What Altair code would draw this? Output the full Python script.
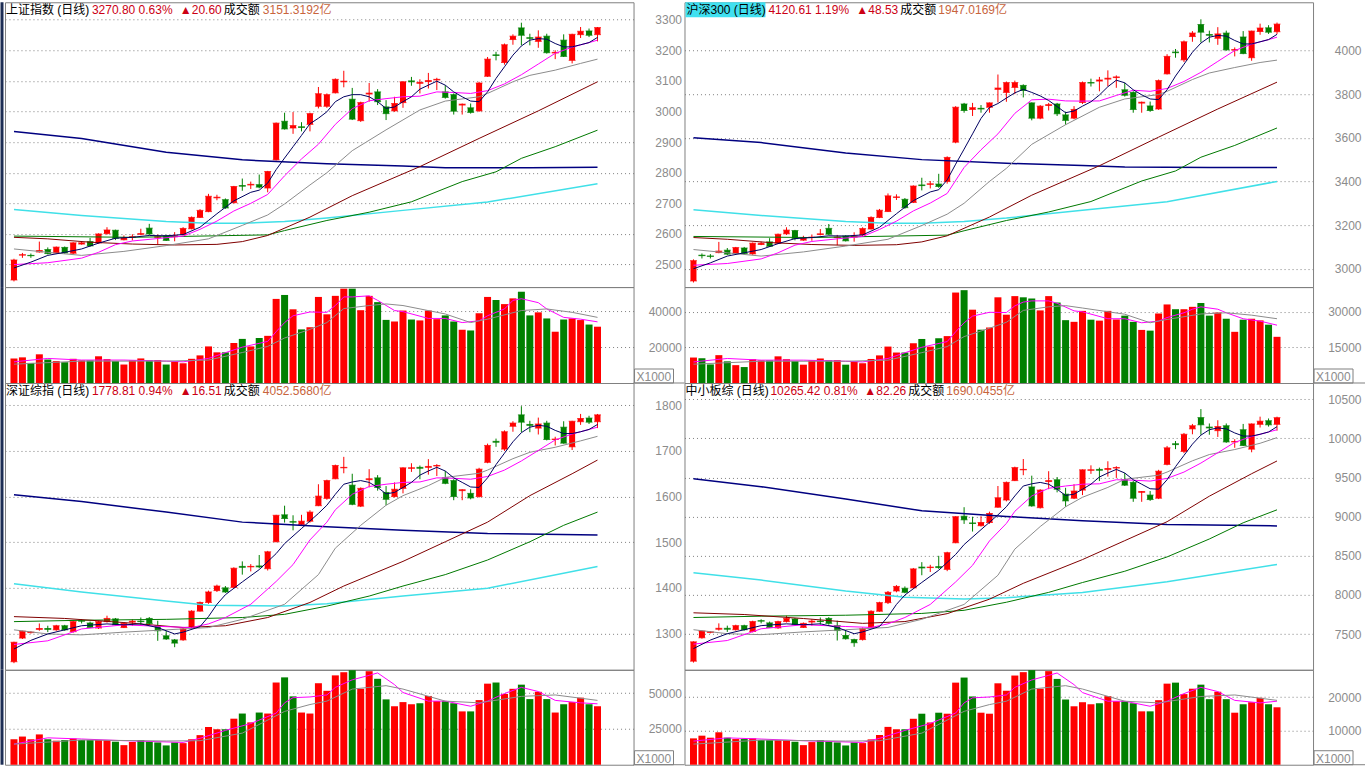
import altair as alt
import pandas as pd

# ================= 上证指数 (top-left) =================
SH_OPEN = [2450,2531,2530,2541,2549,2538,2556,2537,2567,2575,
           2571,2601,2612,2581,2589,2599,2619,2589,2594,2591,
           2598,2617,2654,2673,2718,2712,2702,2758,2760,2761,
           2750,2842,2968,2946,2950,2958,3017,3017,3061,3097,
           3040,2970,3057,3064,3015,3002,3029,3100,3092,3098,
           3103,3064,3055,3021,3012,3002,3115,3185,3160,3235,
           3273,3241,3229,3246,3191,3233,3167,3251,3263,3251]
SH_CLOSE = [2515,2532,2529,2546,2536,2557,2538,2571,2571,2561,
            2600,2613,2586,2587,2591,2601,2600,2591,2579,2594,
            2618,2654,2677,2723,2720,2685,2755,2756,2762,2753,
            2804,2962,2943,2954,2948,2993,3058,3055,3105,3099,
            2975,3029,3060,3032,2993,3026,3097,3097,3095,3101,
            3105,3046,3001,3024,2997,3093,3171,3183,3218,3246,
            3249,3239,3243,3192,3193,3180,3252,3262,3249,3274]
SH_HIGH = [2519,2538,2536,2575,2556,2559,2559,2573,2576,2587,
           2602,2622,2614,2595,2599,2617,2633,2598,2597,2606,
           2622,2657,2681,2731,2728,2716,2757,2781,2771,2794,
           2806,2964,2996,2998,2965,2996,3080,3059,3108,3133,
           3077,3032,3093,3073,3037,3048,3099,3113,3105,3126,
           3110,3086,3059,3026,3026,3097,3178,3195,3222,3252,
           3290,3254,3265,3254,3200,3252,3254,3276,3271,3276]
SH_LOW = [2445,2522,2522,2539,2533,2536,2535,2534,2565,2559,
          2568,2598,2580,2579,2579,2596,2597,2565,2577,2576,
          2595,2615,2652,2671,2710,2682,2700,2741,2747,2749,
          2736,2840,2941,2927,2935,2935,3010,3012,3059,3079,
          2972,2966,3032,3021,2972,2999,3012,3084,3059,3075,
          3070,3042,2990,2990,2993,2999,3113,3167,3153,3218,
          3216,3216,3208,3189,3171,3178,3157,3240,3243,3229]
SH_VOL = [13700,14300,11200,16000,13100,12200,11600,13500,12600,12600,
          14900,13300,12200,10300,12600,13700,12600,12800,10300,12000,
          11000,13500,15400,20400,17100,17100,22300,24600,20400,25100,
          26300,46900,49100,41100,29900,31100,48000,38300,48600,52600,
          52600,40600,48600,45100,35200,34300,40400,35400,34900,40400,
          35600,37700,34300,29700,29300,38900,48000,46300,44000,47200,
          50900,37700,39400,36000,28600,35400,36000,35100,32600,31400]
SH_MA5 = [(0,2489),(2,2508),(4,2530),(6,2540),(8,2551),(10,2570),(12,2586),(14,2589),
          (16,2595),(18,2594),(20,2598),(22,2622),(23,2644),(24,2666),(26,2708),(28,2736),
          (29,2743),(30,2766),(31,2810),(32,2848),(33,2885),(34,2922),(35,2960),(36,2978),
          (37,2999),(38,3032),(39,3048),(40,3055),(41,3055),(42,3048),(43,3032),(44,3010),
          (45,3015),(46,3032),(47,3048),(48,3073),(49,3086),(50,3099),(51,3086),(52,3064),
          (53,3048),(54,3034),(55,3032),(56,3064),(57,3108),(58,3146),(59,3184),(60,3214),
          (61,3233),(62,3238),(63,3236),(64,3222),(65,3211),(66,3211),(67,3218),(68,3225),(69,3242)]
SH_MA10 = [(0,2500),(4,2506),(8,2521),(10,2540),(12,2565),(14,2577),(17,2585),(20,2593),
           (22,2615),(24,2642),(26,2675),(28,2700),(30,2729),(32,2790),(34,2845),(36,2893),
           (38,2958),(40,3009),(42,3035),(44,3042),(46,3048),(48,3050),(50,3064),(52,3062),
           (54,3059),(56,3068),(58,3090),(60,3120),(62,3155),(64,3190),(66,3210),(68,3225),(69,3233)]
SH_MA20 = [(0,2551),(4,2540),(8,2530),(13,2543),(18,2562),(23,2584),(27,2628),(30,2662),
           (32,2698),(35,2760),(37,2800),(40,2872),(44,2940),(48,3005),(51,3034),(55,3048),
           (56,3059),(59,3097),(61,3118),(64,3135),(67,3157),(69,3171)]
SH_MA60 = [(0,2589),(4,2584),(9,2573),(14,2567),(19,2564),(24,2566),(27,2575),(30,2595),
           (35,2655),(40,2725),(48,2820),(55,2912),(62,3002),(69,3097)]
SH_MA120 = [(0,2593),(14,2589),(30,2597),(32,2611),(37,2644),(42,2671),(47,2705),(53,2771),
            (57,2803),(60,2847),(64,2885),(69,2939)]
SH_MA250 = [(0,2935),(8,2912),(18,2867),(27,2842),(37,2829),(46,2822),(51,2816),(61,2816),(69,2818)]
SH_MAC = [(0,2680),(8,2660),(18,2641),(23,2635),(27,2635),(32,2641),(37,2652),(46,2677),(56,2704),(69,2764)]
SH_VMA5 = [(0,11800),(4,13700),(8,12800),(13,12800),(18,12200),(20,11800),(23,13700),(25,16900),
           (27,20000),(30,23200),(31,28600),(32,33700),(33,37500),(35,39600),(37,39400),(38,43200),
           (39,48000),(40,48000),(42,48600),(43,46100),(45,40400),(46,39800),(49,36000),(51,36000),
           (53,33700),(55,34700),(56,37500),(58,41300),(59,46100),(60,47000),(62,44800),(63,41300),
           (65,36600),(67,35600),(69,34100)]
SH_VMA10 = [(0,10500),(8,12200),(18,12200),(23,12800),(27,17000),(30,20400),(32,25100),(35,29900),
            (37,33700),(39,41500),(42,43200),(44,44100),(46,43200),(51,38500),(54,33700),(56,35600),
            (60,40400),(63,41300),(66,39400),(69,36600)]

# ================= 沪深300 (top-right) =================
HS_OPEN = [2944,3062,3058,3074,3085,3070,3095,3068,3111,3123,
           3117,3160,3175,3131,3143,3157,3185,3143,3150,3145,
           3155,3182,3235,3262,3327,3318,3304,3384,3387,3388,
           3400,3580,3755,3730,3735,3740,3822,3808,3831,3840,
           3760,3690,3748,3755,3705,3690,3762,3853,3860,3869,
           3876,3820,3808,3759,3746,3732,3893,3993,3957,4064,
           4119,4073,4056,4080,4002,4062,3967,4087,4104,4086]
HS_CLOSE = [3037,3060,3057,3081,3067,3097,3070,3117,3117,3103,
            3158,3177,3138,3140,3145,3160,3158,3145,3128,3150,
            3184,3235,3268,3334,3329,3280,3379,3381,3389,3377,
            3510,3740,3725,3738,3732,3760,3828,3853,3853,3817,
            3690,3745,3752,3710,3680,3730,3853,3851,3865,3873,
            3879,3795,3730,3763,3725,3862,3973,3990,4040,4080,
            4084,4070,4076,4003,4004,3986,4089,4103,4084,4121]
HS_HIGH = [3043,3070,3067,3123,3095,3100,3100,3120,3124,3140,
           3161,3190,3178,3151,3157,3182,3205,3155,3154,3167,
           3190,3240,3274,3345,3341,3324,3382,3417,3402,3435,
           3515,3745,3760,3760,3750,3762,3890,3858,3862,3845,
           3762,3750,3760,3760,3720,3745,3858,3871,3879,3909,
           3886,3852,3813,3766,3766,3867,3983,4007,4046,4089,
           4143,4091,4107,4091,4014,4089,4091,4123,4116,4128]
HS_LOW = [2937,3047,3047,3071,3063,3067,3065,3064,3108,3100,
          3113,3155,3130,3128,3128,3153,3154,3108,3125,3124,
          3151,3180,3232,3260,3315,3275,3301,3359,3368,3371,
          3390,3575,3715,3700,3715,3715,3762,3765,3800,3785,
          3680,3685,3725,3700,3660,3685,3755,3835,3813,3836,
          3829,3789,3715,3715,3719,3728,3890,3967,3947,4040,
          4037,4037,4026,3999,3973,3983,3953,4072,4076,4075]
HS_VOL = [10700,10400,7800,11700,9100,7500,6700,10000,9500,9500,
          11200,10000,9200,7700,9500,10300,9500,9600,7700,9000,
          8300,10100,11600,15300,12800,12800,16700,18500,15300,18800,
          19700,38000,39000,30800,22400,23300,36000,28700,36500,36000,
          35500,30500,36500,33800,26400,25700,30300,26600,26200,30300,
          26700,28300,25700,22300,22000,29200,33000,31000,31000,32000,
          33600,28300,29600,27000,21500,26600,27000,26300,24500,19400]
HS_MA5 = [(0,3000),(2,3027),(4,3058),(6,3073),(8,3088),(10,3115),(12,3138),(14,3143),(16,3151),
          (18,3150),(20,3155),(22,3190),(23,3221),(24,3252),(26,3312),(28,3352),(29,3362),(30,3407),
          (31,3479),(32,3548),(33,3618),(34,3689),(35,3739),(36,3757),(37,3782),(38,3806),(39,3822),
          (40,3808),(41,3792),(42,3771),(43,3743),(44,3715),(45,3723),(46,3745),(47,3765),(48,3796),
          (49,3834),(50,3864),(51,3852),(52,3820),(53,3797),(54,3778),(55,3775),(56,3820),(57,3883),
          (58,3937),(59,3992),(60,4034),(61,4061),(62,4069),(63,4066),(64,4046),(65,4030),(66,4030),
          (67,4040),(68,4050),(69,4074)]
HS_MA10 = [(0,3016),(4,3024),(8,3045),(10,3073),(12,3108),(14,3125),(17,3137),(20,3148),(22,3180),
           (24,3218),(26,3265),(28,3301),(30,3345),(32,3464),(34,3545),(36,3618),(38,3712),(40,3774),
           (42,3777),(44,3769),(46,3768),(48,3769),(50,3794),(52,3818),(54,3813),(56,3826),(58,3858),
           (60,3900),(62,3950),(64,4000),(66,4029),(68,4050),(69,4061)]
HS_MA20 = [(0,3088),(4,3073),(8,3058),(13,3077),(18,3104),(23,3135),(27,3198),(30,3250),(32,3300),
           (35,3400),(37,3460),(40,3570),(44,3660),(48,3740),(51,3778),(55,3798),(56,3813),(59,3867),
           (61,3897),(64,3922),(67,3945),(69,3956)]
HS_MA60 = [(0,3143),(4,3135),(9,3120),(14,3111),(19,3107),(24,3110),(27,3123),(30,3151),(35,3237),
           (40,3337),(48,3472),(55,3603),(62,3732),(69,3855)]
HS_MA120 = [(0,3148),(14,3143),(30,3154),(32,3174),(37,3221),(42,3260),(47,3308),(53,3402),(57,3448),
            (60,3511),(64,3565),(69,3645)]
HS_MA250 = [(0,3600),(8,3578),(18,3530),(27,3500),(37,3483),(46,3473),(51,3466),(61,3464),(69,3464)]
HS_MAC = [(0,3270),(8,3244),(18,3217),(23,3208),(27,3208),(32,3217),(37,3232),(46,3268),(56,3307),(69,3400)]
HS_VMA5 = [(0,8850),(4,10300),(8,9600),(13,9600),(18,9150),(20,8850),(23,10300),(25,12700),(27,15000),
           (30,17400),(31,21500),(32,25300),(33,28100),(35,29700),(37,29600),(38,32400),(39,34000),
           (40,34500),(42,34500),(43,33500),(45,30300),(46,29900),(49,27000),(51,27000),(53,25300),
           (55,26000),(56,27500),(58,29500),(59,31000),(60,32000),(62,31000),(63,29500),(65,27000),
           (67,26000),(69,24300)]
HS_VMA10 = [(0,7900),(8,9150),(18,9150),(23,9600),(27,12750),(30,15300),(32,19500),(35,23000),
            (37,25500),(39,30500),(42,32000),(44,32500),(46,31500),(51,28900),(54,25300),(56,26700),
            (60,29000),(63,29500),(66,28500),(69,27000)]

# ================= 深证综指 (bottom-left) =================
SZ_OPEN = [1238,1290,1302,1309,1311,1308,1317,1304,1328,1323,
           1312,1326,1332,1313,1325,1327,1333,1317,1295,1286,
           1286,1313,1349,1368,1394,1400,1401,1447,1446,1448,
           1442,1501,1560,1545,1539,1546,1580,1596,1639,1663,
           1625,1579,1637,1641,1609,1600,1618,1662,1664,1664,
           1667,1641,1635,1613,1607,1600,1675,1721,1704,1754,
           1779,1758,1750,1761,1725,1752,1709,1764,1772,1764]
SZ_CLOSE = [1281,1305,1303,1311,1309,1317,1308,1326,1327,1313,
            1326,1333,1319,1322,1327,1326,1322,1306,1288,1279,
            1310,1349,1368,1391,1404,1391,1443,1445,1447,1446,
            1479,1559,1552,1544,1546,1566,1601,1635,1668,1664,
            1583,1618,1639,1620,1594,1616,1663,1663,1662,1666,
            1668,1629,1600,1615,1597,1660,1712,1719,1742,1761,
            1763,1756,1759,1725,1726,1717,1765,1771,1763,1779]
SZ_HIGH = [1282,1306,1305,1322,1317,1319,1319,1328,1331,1326,
           1328,1339,1334,1324,1331,1335,1336,1328,1306,1288,
           1313,1351,1370,1394,1407,1404,1445,1458,1452,1472,
           1481,1560,1580,1559,1560,1570,1627,1637,1670,1687,
           1650,1620,1660,1647,1623,1631,1664,1673,1668,1682,
           1671,1656,1638,1616,1616,1663,1716,1727,1745,1765,
           1798,1766,1773,1766,1731,1765,1766,1781,1777,1781]
SZ_LOW = [1235,1288,1300,1306,1303,1306,1306,1302,1322,1312,
          1310,1324,1318,1312,1317,1319,1319,1284,1286,1270,
          1284,1312,1348,1365,1391,1389,1400,1429,1436,1443,
          1438,1500,1543,1526,1537,1543,1579,1593,1638,1651,
          1581,1577,1620,1613,1581,1598,1607,1654,1638,1648,
          1645,1627,1592,1592,1594,1598,1673,1709,1700,1742,
          1741,1741,1736,1723,1712,1716,1702,1757,1759,1750]
SZ_VOL = [17800,19700,17800,21200,17800,16800,17300,18300,17300,17300,
          17300,17300,16100,13700,15900,17300,16300,15600,13500,15600,
          15100,17800,20700,26400,24800,24800,32200,35800,29600,36500,
          35800,57500,61100,47800,36500,35800,57000,51700,62500,64700,
          66100,53100,65400,60100,45700,40900,43800,42300,43000,48100,
          44500,44500,43000,37300,37300,45200,56700,57500,49500,53100,
          56000,45900,51000,45900,36500,42300,43800,46900,42300,40900]
SZ_MA5 = [(0,1266),(2,1285),(4,1299),(6,1308),(8,1317),(11,1321),(13,1319),(15,1321),(17,1313),
          (19,1299),(20,1303),(22,1315),(23,1337),(24,1364),(25,1385),(27,1413),(29,1440),
          (31,1475),(32,1497),(34,1530),(36,1563),(37,1581),(38,1605),(39,1627),(40,1632),
          (41,1635),(42,1631),(43,1620),(44,1606),(45,1609),(46,1620),(47,1631),(48,1647),
          (49,1656),(50,1664),(51,1656),(52,1641),(53,1631),(54,1621),(55,1620),(56,1641),
          (57,1670),(58,1695),(59,1720),(60,1740),(61,1752),(62,1756),(63,1754),(64,1745),
          (65,1738),(66,1738),(67,1742),(68,1747),(69,1758)]
SZ_MA10 = [(0,1276),(4,1284),(8,1310),(13,1319),(18,1315),(21,1313),(23,1321),(25,1335),
           (28,1364),(31,1414),(33,1451),(35,1505),(37,1544),(38,1571),(40,1605),(42,1622),
           (44,1627),(46,1631),(48,1632),(50,1641),(52,1640),(54,1638),(56,1644),(58,1658),
           (60,1678),(62,1701),(64,1724),(66,1737),(68,1747),(69,1752)]
SZ_MA20 = [(0,1308),(4,1299),(8,1297),(13,1303),(18,1308),(23,1313),(27,1331),(32,1364),
           (36,1429),(38,1487),(41,1537),(44,1581),(46,1602),(49,1624),(51,1642),(55,1651),
           (56,1658),(59,1683),(61,1697),(64,1708),(67,1722),(69,1732)]
SZ_MA60 = [(0,1337),(6,1333),(13,1324),(20,1313),(25,1317),(30,1335),(35,1368),(39,1404),
           (46,1458),(51,1501),(56,1544),(61,1602),(66,1650),(69,1680)]
SZ_MA120 = [(0,1326),(8,1329),(18,1331),(27,1335),(32,1342),(37,1360),(42,1382),(46,1404),
            (51,1429),(56,1461),(61,1501),(65,1537),(69,1566)]
SZ_MA250 = [(0,1604),(8,1589),(18,1566),(27,1544),(37,1534),(46,1526),(56,1519),(69,1516)]
SZ_MAC = [(0,1409),(8,1391),(18,1371),(23,1362),(32,1360),(37,1365),(46,1382),(56,1399),(69,1447)]
SZ_VMA5 = [(0,14400),(4,18800),(8,18000),(13,16800),(20,15600),(22,18500),(25,24000),(28,28800),
           (31,36100),(32,43300),(33,46900),(35,47400),(37,48800),(38,54100),(40,59400),(42,62500),
           (43,64200),(45,56000),(46,50500),(49,44500),(51,44500),(54,40900),(56,44500),(58,49800),
           (60,54100),(62,51200),(64,45000),(67,43300),(69,42600)]
SZ_VMA10 = [(0,14400),(8,17300),(18,16600),(22,16800),(27,22100),(32,37300),(35,42100),(37,44500),
            (40,52900),(44,55300),(46,52900),(51,44500),(55,43300),(60,47800),(64,48800),(69,45000)]

# ================= 中小板综 (bottom-right) =================
ZX_OPEN = [7154,7453,7522,7562,7574,7556,7608,7533,7671,7643,
           7579,7660,7694,7585,7654,7666,7700,7608,7482,7430,
           7430,7585,7792,7902,8051,8086,8091,8356,8350,8362,
           8327,8667,9006,8920,8885,8926,9121,9213,9461,9599,
           9380,9115,9449,9472,9288,9236,9340,9593,9604,9604,
           9622,9472,9438,9311,9276,9236,9668,9932,9834,10122,
           10266,10145,10099,10162,9955,10111,9863,10180,10226,10180]
ZX_CLOSE = [7401,7539,7528,7574,7562,7608,7556,7660,7666,7585,
            7660,7700,7620,7637,7666,7660,7637,7545,7441,7390,
            7568,7792,7902,8034,8109,8034,8333,8345,8356,8350,
            8540,9000,8960,8914,8926,9041,9242,9438,9627,9604,
            9138,9340,9461,9351,9202,9328,9599,9599,9593,9616,
            9627,9403,9236,9322,9219,9581,9880,9921,10053,10162,
            10174,10134,10151,9955,9961,9909,10185,10220,10174,10265]
ZX_HIGH = [7407,7545,7539,7637,7608,7620,7620,7671,7689,7660,
           7671,7735,7706,7648,7689,7712,7717,7671,7545,7441,
           7585,7804,7913,8051,8126,8109,8345,8419,8385,8500,
           8552,9006,9121,9000,9006,9064,9392,9449,9639,9737,
           9524,9351,9581,9507,9369,9415,9604,9656,9627,9708,
           9645,9558,9455,9328,9328,9599,9904,9967,10070,10185,
           10375,10191,10232,10191,9990,10185,10191,10278,10255,10278]
ZX_LOW = [7136,7441,7510,7545,7528,7545,7545,7522,7637,7579,
          7568,7648,7614,7579,7608,7620,7620,7418,7430,7338,
          7418,7579,7786,7884,8034,8022,8086,8252,8293,8333,
          8304,8661,8908,8810,8874,8908,9115,9196,9455,9530,
          9127,9104,9351,9311,9127,9225,9276,9547,9455,9512,
          9495,9392,9190,9190,9202,9225,9656,9863,9812,10053,
          10047,10047,10019,9944,9880,9904,9823,10139,10151,10099]
ZX_VOL = [7800,8600,8000,9600,8000,7600,7600,7800,7300,7300,
          7300,7300,6800,5800,6700,7300,6900,6600,5700,6600,
          6400,7500,8800,11200,10500,10500,13600,15100,12500,15400,
          15100,24300,25800,20200,15400,15100,24100,21900,26400,27400,
          28000,22500,27700,25400,19300,17300,18500,17900,18200,20300,
          18800,18800,18200,15800,15800,19100,24000,24300,20900,22500,
          23700,19400,21600,19400,15400,17900,18500,19800,17900,17000]
ZX_MA5 = [(0,7315),(2,7424),(4,7505),(6,7556),(8,7608),(11,7631),(13,7620),(15,7631),(17,7585),
          (19,7505),(20,7528),(22,7597),(23,7723),(24,7879),(25,7999),(27,8160),(29,8316),(31,8517),
          (32,8644),(34,8834),(36,9023),(37,9127),(38,9265),(39,9392),(40,9420),(41,9438),(42,9415),
          (43,9351),(44,9271),(45,9288),(46,9351),(47,9415),(48,9507),(49,9558),(50,9604),(51,9558),
          (52,9472),(53,9415),(54,9357),(55,9351),(56,9472),(57,9639),(58,9783),(59,9927),(60,10042),
          (61,10111),(62,10134),(63,10122),(64,10070),(65,10030),(66,10030),(67,10053),(68,10082),(69,10150)]
ZX_MA10 = [(0,7372),(4,7418),(8,7568),(13,7620),(18,7597),(21,7585),(23,7631),(25,7712),(28,7879),
           (31,8166),(33,8379),(35,8690),(37,8914),(38,9069),(40,9265),(42,9363),(44,9392),(46,9415),
           (48,9420),(50,9472),(52,9466),(54,9455),(56,9489),(58,9570),(60,9685),(62,9817),(64,9950),
           (66,10024),(68,10082),(69,10111)]
ZX_MA20 = [(0,7556),(4,7505),(8,7493),(13,7528),(18,7556),(23,7585),(27,7689),(32,7879),(36,8252),
           (38,8586),(41,8874),(44,9127),(46,9248),(49,9374),(51,9478),(55,9530),(56,9570),(59,9714),
           (61,9794),(64,9858),(67,9938),(69,10010)]
ZX_MA60 = [(0,7772),(6,7750),(13,7699),(20,7637),(25,7660),(30,7761),(35,7946),(39,8149),(46,8452),
           (51,8694),(56,8936),(61,9262),(66,9549),(69,9712)]
ZX_MA120 = [(0,7712),(8,7729),(18,7741),(27,7764),(32,7804),(37,7907),(42,8033),(46,8159),(51,8303),
            (56,8486),(61,8715),(65,8922),(69,9088)]
ZX_MA250 = [(0,9486),(8,9383),(18,9226),(27,9075),(37,9003),(46,8948),(56,8900),(69,8882)]
ZX_MAC = [(0,8283),(8,8190),(18,8050),(25,7970),(32,7950),(37,7965),(46,8030),(56,8170),(69,8389)]
ZX_VMA5 = [(0,7000),(4,7950),(8,7600),(13,7100),(20,6600),(22,7800),(25,10150),(28,12200),(31,15300),
           (32,18300),(33,19800),(35,20050),(37,20650),(38,22900),(40,25100),(42,26450),(43,27150),
           (45,23700),(46,21350),(49,18800),(51,18800),(54,17300),(56,18800),(58,21050),(60,22900),
           (62,21650),(64,19050),(67,18300),(69,18800)]
ZX_VMA10 = [(0,6100),(8,7300),(18,7000),(22,7100),(27,9350),(32,15800),(35,17800),(37,18800),(40,22400),
            (44,23400),(46,22400),(51,18800),(55,18300),(60,20200),(64,20650),(69,19050)]

# ================= styling =================
XDOM = [-0.47, 72.67]
PW = 629
AXW = 51
RED = "#FF0000"
GREEN = "#008000"
TXT_RED = "#CC0014"
TXT_OR = "#C8643C"
AX_GRAY = "#8C8C8C"
BORDER = "#808080"
BLACK = "#000000"
FONT = "Liberation Sans, Noto Sans CJK SC, DejaVu Sans"
MA_STYLE = {"ma5": ("#000060", 1), "ma10": ("#FF00FF", 1), "ma20": ("#8C8C8C", 1),
            "ma60": ("#800000", 1), "ma120": ("#007800", 1), "ma250": ("#000080", 1.5),
            "mac": ("#40E0E8", 1.5)}


def xenc():
    return alt.X("i:Q", scale=alt.Scale(domain=XDOM, nice=False, zero=False), axis=None)


def yaxis(ticks):
    return alt.Axis(orient="right", values=ticks, grid=True, gridColor=BORDER, gridDash=[1, 3],
                    gridWidth=1, ticks=False, tickSize=0, domain=False, labelAlign="right",
                    labelPadding=48, labelColor=AX_GRAY, labelFont="Liberation Sans",
                    labelFontSize=12, labelBaseline="middle", title=None, format="d",
                    labelOverlap=False)


def dirs_of(o, c):
    return ["up" if cc >= oo else "dn" for oo, cc in zip(o, c)]


def color_enc():
    return alt.Color("d:N", scale=alt.Scale(domain=["up", "dn"], range=[RED, GREEN]), legend=None)


def one(text):
    return alt.Chart(pd.DataFrame({"t": [text]}))


def price_panel(o, h, l, c, mas, ydom, yticks, height, header, box=None, left_edge=False):
    n = len(c)
    df = pd.DataFrame({"i": list(range(n)), "o": o, "h": h, "l": l, "c": c, "d": dirs_of(o, c)})
    ys = alt.Scale(domain=ydom, nice=False, zero=False)
    ax = yaxis(yticks)
    base = alt.Chart(df)
    wick = base.mark_rule(strokeWidth=1).encode(
        x=xenc(), y=alt.Y("l:Q", scale=ys, axis=ax), y2="h:Q", color=color_enc())
    body = base.mark_bar(size=6).encode(
        x=xenc(), y=alt.Y("o:Q", scale=ys, axis=ax), y2="c:Q", color=color_enc())
    t_open = base.mark_tick(orient="horizontal", size=7, thickness=1).encode(
        x=xenc(), y=alt.Y("o:Q", scale=ys, axis=ax), color=color_enc())
    t_close = base.mark_tick(orient="horizontal", size=7, thickness=1).encode(
        x=xenc(), y=alt.Y("c:Q", scale=ys, axis=ax), color=color_enc())
    rows = []
    for name, pts in mas.items():
        for i, v in pts:
            rows.append({"i": i, "v": v, "m": name, "w": MA_STYLE[name][1]})
    names = list(mas.keys())
    lines = alt.Chart(pd.DataFrame(rows)).mark_line().encode(
        x=xenc(), y=alt.Y("v:Q", scale=ys, axis=ax),
        color=alt.Color("m:N", scale=alt.Scale(domain=names, range=[MA_STYLE[k][0] for k in names]), legend=None),
        strokeWidth=alt.StrokeWidth("w:Q", scale=None, legend=None),
        order="i:Q")
    layers = [wick, body, t_open, t_close, lines]
    if box is not None:
        layers.append(one("b").mark_rect(color="#40E0F0").encode(
            x=alt.value(box[0]), x2=alt.value(box[1]), y=alt.value(0), y2=alt.value(15)))
    for text, xp, colr in header:
        layers.append(one(text).mark_text(align="left", baseline="middle", font=FONT, fontSize=12,
                                          color=colr).encode(x=alt.value(xp), y=alt.value(8), text="t:N"))
    if left_edge:
        layers.append(one("e").mark_rule(color="#1E2E55", strokeWidth=3).encode(
            x=alt.value(-3), y=alt.value(0), y2=alt.value(height)))
    return alt.layer(*layers).resolve_scale(color="independent").properties(width=PW, height=height)


def vol_panel(vals, dirs, vma5, vma10, vdom, vticks, height, ext, left_edge=False):
    n = len(vals)
    df = pd.DataFrame({"i": list(range(n)), "v": vals, "d": dirs})
    ys = alt.Scale(domain=vdom, nice=False, zero=True)
    ax = yaxis(vticks)
    bars = alt.Chart(df).mark_bar(size=7).encode(
        x=xenc(), y=alt.Y("v:Q", scale=ys, axis=ax), color=color_enc())
    rows = [{"i": i, "v": v, "m": "a"} for i, v in vma5] + [{"i": i, "v": v, "m": "b"} for i, v in vma10]
    lines = alt.Chart(pd.DataFrame(rows)).mark_line(strokeWidth=1).encode(
        x=xenc(), y=alt.Y("v:Q", scale=ys, axis=ax),
        color=alt.Color("m:N", scale=alt.Scale(domain=["a", "b"], range=["#FF00FF", "#8C8C8C"]), legend=None),
        order="i:Q")
    box = one("x").mark_rect(fillOpacity=0, stroke=BORDER, strokeWidth=1).encode(
        x=alt.value(PW + 1), x2=alt.value(PW + 40), y=alt.value(height - 14), y2=alt.value(height))
    txt = one("X1000").mark_text(align="left", baseline="alphabetic", font="Liberation Sans",
                                 fontSize=12, color=AX_GRAY).encode(
        x=alt.value(PW + 3), y=alt.value(height - 2), text="t:N")
    sep = one("s").mark_rule(color=BORDER, strokeWidth=1).encode(
        x=alt.value(PW), x2=alt.value(PW + ext), y=alt.value(height))
    layers = [bars, lines, box, txt, sep]
    if left_edge:
        layers.append(one("e").mark_rule(color="#1E2E55", strokeWidth=3).encode(
            x=alt.value(-3), y=alt.value(0), y2=alt.value(height)))
    return alt.layer(*layers).resolve_scale(color="independent").properties(width=PW, height=height)


def mas_dict(a, b, c, d, e, f, g):
    return {"ma250": f, "mac": g, "ma120": e, "ma60": d, "ma20": c, "ma10": b, "ma5": a}


tl_p = price_panel(SH_OPEN, SH_HIGH, SH_LOW, SH_CLOSE,
                   mas_dict(SH_MA5, SH_MA10, SH_MA20, SH_MA60, SH_MA120, SH_MA250, SH_MAC),
                   [2426.5, 3356.7], list(range(2500, 3301, 100)), 285,
                   [("上证指数 (日线)", 1, BLACK), ("3270.80 0.63%", 87, TXT_RED), ("▲20.60", 175, TXT_RED),
                    ("成交额", 219, BLACK), ("3151.3192亿", 258, TXT_OR)], left_edge=True)
tl_v = vol_panel(SH_VOL, dirs_of(SH_OPEN, SH_CLOSE), SH_VMA5, SH_VMA10, [0, 53500], [20000, 40000], 96, AXW,
                 left_edge=True)
bl_p = price_panel(SZ_OPEN, SZ_HIGH, SZ_LOW, SZ_CLOSE,
                   mas_dict(SZ_MA5, SZ_MA10, SZ_MA20, SZ_MA60, SZ_MA120, SZ_MA250, SZ_MAC),
                   [1220.5, 1848.8], list(range(1300, 1801, 100)), 287,
                   [("深证综指 (日线)", 1, BLACK), ("1778.81 0.94%", 87, TXT_RED), ("▲16.51", 175, TXT_RED),
                    ("成交额", 219, BLACK), ("4052.5680亿", 258, TXT_OR)], left_edge=True)
bl_v = vol_panel(SZ_VOL, dirs_of(SZ_OPEN, SZ_CLOSE), SZ_VMA5, SZ_VMA10, [0, 66400], [25000, 50000], 95, AXW,
                 left_edge=True)
tr_p = price_panel(HS_OPEN, HS_HIGH, HS_LOW, HS_CLOSE,
                   mas_dict(HS_MA5, HS_MA10, HS_MA20, HS_MA60, HS_MA120, HS_MA250, HS_MAC),
                   [2916, 4221], list(range(3000, 4001, 200)), 285,
                   [("沪深300 (日线)", 2, BLACK), ("4120.61 1.19%", 84, TXT_RED), ("▲48.53", 172, TXT_RED),
                    ("成交额", 216, BLACK), ("1947.0169亿", 254, TXT_OR)], box=(1, 81))
tr_v = vol_panel(HS_VOL, dirs_of(HS_OPEN, HS_CLOSE), HS_VMA5, HS_VMA10, [0, 40300], [15000, 30000], 96, 52)
br_p = price_panel(ZX_OPEN, ZX_HIGH, ZX_LOW, ZX_CLOSE,
                   mas_dict(ZX_MA5, ZX_MA10, ZX_MA20, ZX_MA60, ZX_MA120, ZX_MA250, ZX_MAC),
                   [7044, 10708], list(range(7500, 10501, 500)), 287,
                   [("中小板综 (日线)", 1, BLACK), ("10265.42 0.81%", 86, TXT_RED), ("▲82.26", 180, TXT_RED),
                    ("成交额", 224, BLACK), ("1690.0455亿", 262, TXT_OR)])
br_v = vol_panel(ZX_VOL, dirs_of(ZX_OPEN, ZX_CLOSE), ZX_VMA5, ZX_VMA10, [0, 28100], [10000, 20000], 95, 52)

chart = alt.concat(tl_p, tr_p, tl_v, tr_v, bl_p, br_p, bl_v, br_v, columns=2,
                   spacing=alt.RowColnumber(row=0, column=AXW), bounds="flush").properties(
    padding={"left": 0, "top": 0, "right": 0, "bottom": 0}, background="white"
).configure_view(stroke=BORDER, strokeWidth=1)

chart.save("out.html", embed_options={"renderer": "svg", "actions": False})
